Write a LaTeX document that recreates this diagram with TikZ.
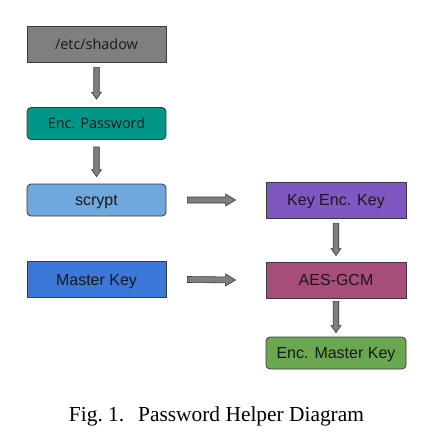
\documentclass[tikz,border=0pt]{standalone}
\usepackage{fontspec}
\setmainfont{Liberation Serif}
\newfontfamily\osans{Open Sans}
\newfontfamily\lsans{Liberation Sans}
\usetikzlibrary{calc}
\definecolor{cshadow}{HTML}{7F7F7F}
\definecolor{cencpw}{HTML}{009688}
\definecolor{cscrypt}{HTML}{6FA8DC}
\definecolor{cmaster}{HTML}{3C78D8}
\definecolor{ckek}{HTML}{7E57C2}
\definecolor{caes}{HTML}{A64D79}
\definecolor{cencmk}{HTML}{6AA84F}
\definecolor{cedge}{HTML}{3A3A3A}
\definecolor{carrfill}{HTML}{7F7F7F}
\tikzset{
  box/.style={draw=cedge, line width=0.8pt, inner sep=0pt, minimum width=139pt, minimum height=36pt, text=black!90},
  rbox/.style={box, rounded corners=4pt, minimum height=32pt},
  ofont/.style={font=\osans\fontsize{14.4}{17}\selectfont, text height=10.9pt, text depth=0pt},
  lfont/.style={font=\lsans\fontsize{16}{19}\selectfont, text height=11.5pt, text depth=0pt},
  blkarr/.style={draw=cedge, fill=carrfill, line width=0.6pt, line join=miter}
}
% #1 start, #2 end, #3 head length, #4 head half width, #5 shaft half width
\newcommand\blkarrow[5]{%
  \draw[blkarr] let \p1=(#1), \p2=(#2), \n1={atan2(\y2-\y1,\x2-\x1)}, \n2={veclen(\x2-\x1,\y2-\y1)} in
    [shift={(\p1)}, rotate=\n1]
    (0pt,-#5) -- ({\n2*1pt-#3},-#5) -- ({\n2*1pt-#3},-#4) -- ({\n2*1pt},0pt)
    -- ({\n2*1pt-#3},#4) -- ({\n2*1pt-#3},#5) -- (0pt,#5) -- cycle;}
\begin{document}
\begin{tikzpicture}[x=1pt,y=-1pt]
\useasboundingbox (0,0) rectangle (434,448);
\node[box, fill=cshadow, ofont] (shadow) at (96.5,44) {/etc/shadow\hspace{13pt}};
\node[rbox, fill=cencpw, ofont] (encpw) at (96.5,123.5) {Enc. Password};
\node[rbox, fill=cscrypt, lfont] (scrypt) at (96.5,200) {scrypt};
\node[box, fill=cmaster, lfont] (master) at (96.5,279.5) {Master Key};
\node[box, fill=ckek, lfont, minimum width=140pt] (kek) at (336,200) {Key Enc. Key};
\node[box, fill=caes, lfont, minimum width=140pt] (aes) at (336,280) {AES-GCM};
\node[rbox, fill=cencmk, lfont, minimum width=140pt] (encmk) at (336,353) {Enc. Master Key};
\coordinate (a1s) at ($(shadow.south)+(0,5)$);
\coordinate (a1e) at ($(encpw.north)+(0,-8)$);
\coordinate (a2s) at ($(encpw.south)+(0,7)$);
\coordinate (a2e) at ($(scrypt.north)+(0,-7)$);
\coordinate (a3s) at ($(scrypt.east)+(21,0)$);
\coordinate (a3e) at ($(kek.west)+(-30,0)$);
\coordinate (a4s) at ($(master.east)+(21,0)$);
\coordinate (a4e) at ($(aes.west)+(-30,0)$);
\coordinate (a5s) at ($(kek.south)+(0,5)$);
\coordinate (a5e) at ($(aes.north)+(0,-6)$);
\coordinate (a6s) at ($(aes.south)+(0,3)$);
\coordinate (a6e) at ($(encmk.north)+(0,-4)$);
\blkarrow{a1s}{a1e}{7pt}{5pt}{2.75pt}
\blkarrow{a2s}{a2e}{7pt}{5pt}{2.75pt}
\blkarrow{a5s}{a5e}{7pt}{5pt}{2.75pt}
\blkarrow{a6s}{a6e}{7pt}{5pt}{2.75pt}
\blkarrow{a3s}{a3e}{10pt}{6pt}{3pt}
\blkarrow{a4s}{a4e}{10pt}{6pt}{3pt}
\node[anchor=base, font=\fontsize{21.4}{25}\selectfont] (cap) at (216.5,421.7) {Fig.~1.\hspace{0.65em}Password Helper Diagram};
\end{tikzpicture}
\end{document}
